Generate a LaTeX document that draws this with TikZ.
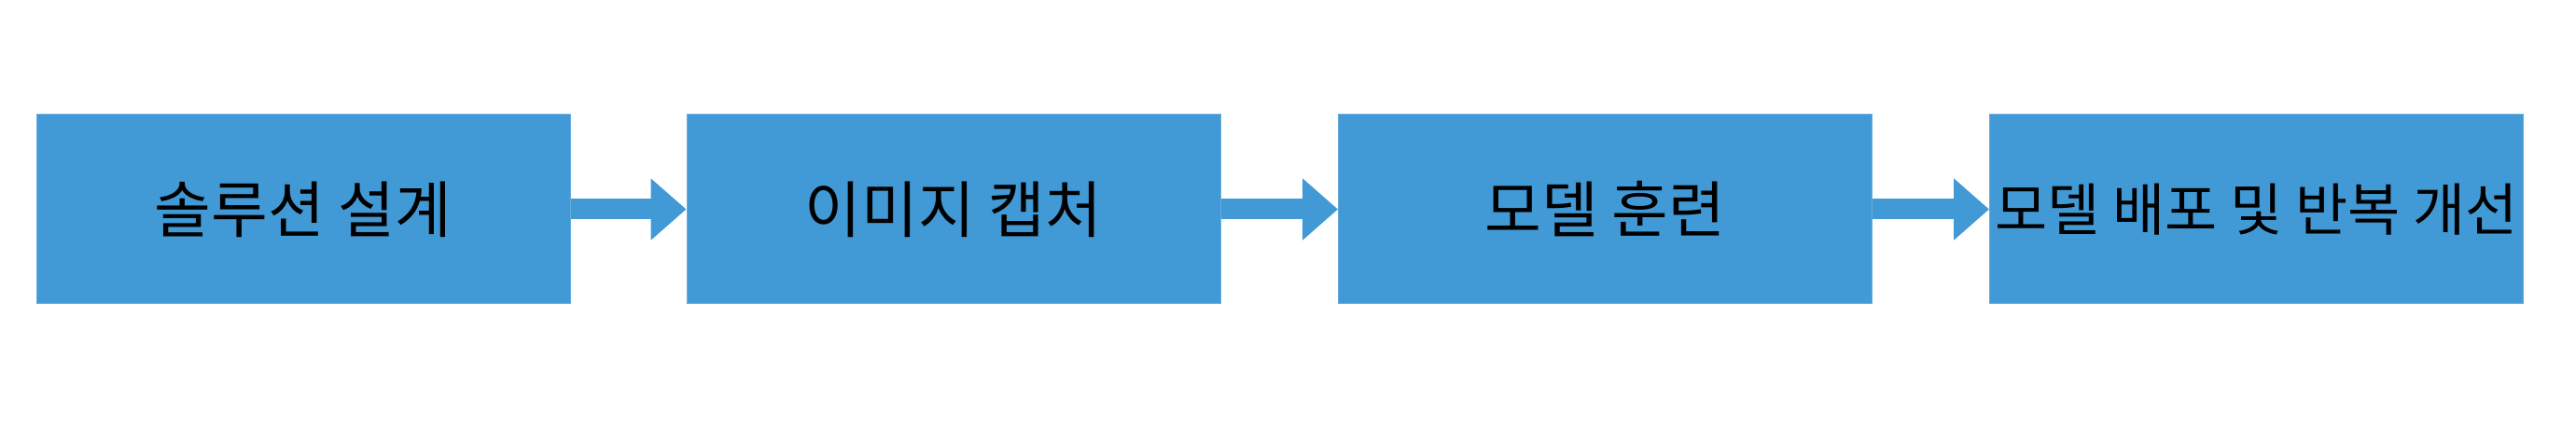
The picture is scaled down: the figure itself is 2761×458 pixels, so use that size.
\documentclass[tikz,border=0pt]{standalone}
\usepackage{fontspec}
\newfontfamily\krfont{Noto Sans CJK KR}
\usepackage{xcolor}
\usepackage{tikz}
\usetikzlibrary{arrows.meta,positioning}
\definecolor{stepblue}{HTML}{4199D5}
\tikzset{
  stepbox/.style ={draw=stepblue!80!white,fill=stepblue,line width=0.5pt,
                   minimum width=286pt,minimum height=101.5pt,inner sep=0pt,
                   font=\krfont\fontsize{33}{40}\selectfont},
  flowarr/.style ={-{Triangle[length=19pt,width=32pt]},line width=11pt,
                   draw=stepblue},
}

\begin{document}
\begin{tikzpicture}[x=0.5pt,y=-0.5pt]
\useasboundingbox (0,0) rectangle (2761,458);

% steps
\node[stepbox] (s1) at (325,224.5) {솔루션 설계};
\node[stepbox] (s2) at (1022,224.5) {이미지 캡처};
\node[stepbox] (s3) at (1720.5,224.5) {모델 훈련};
\node[stepbox,font=\krfont\fontsize{30.5}{37}\selectfont]
   (s4) at (2418.5,224.5) {모델 배포 및 반복 개선};

% arrows
\draw[flowarr] (s1.east) -- (s2.west);
\draw[flowarr] (s2.east) -- (s3.west);
\draw[flowarr] (s3.east) -- (s4.west);

\end{tikzpicture}
\end{document}
